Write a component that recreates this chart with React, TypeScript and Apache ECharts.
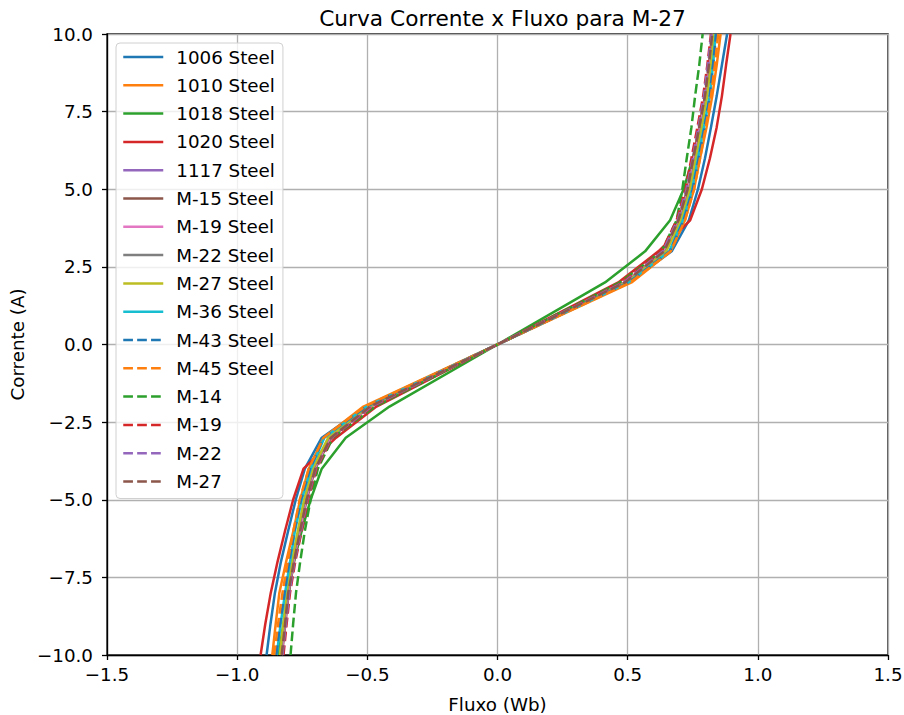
import React, { useEffect, useRef } from "react";
import * as echarts from "echarts";

const currents = [-10, -9, -8, -7, -6, -5, -4, -3, -2, 0, 2, 3, 4, 5, 6, 7, 8, 9, 10];

const seriesNames = [
  "1006 Steel", "1010 Steel", "1018 Steel", "1020 Steel", "1117 Steel",
  "M-15 Steel", "M-19 Steel", "M-22 Steel", "M-27 Steel", "M-36 Steel",
  "M-43 Steel", "M-45 Steel", "M-14", "M-19", "M-22", "M-27",
];

const flux1006 = [-0.887, -0.872, -0.855, -0.832, -0.804, -0.775, -0.74, -0.675, -0.505, 0, 0.503, 0.669, 0.735, 0.77, 0.797, 0.82, 0.842, 0.862, 0.882];
const flux1010 = [-0.865, -0.852, -0.838, -0.812, -0.784, -0.758, -0.725, -0.668, -0.515, 0, 0.515, 0.665, 0.72, 0.755, 0.778, 0.803, 0.825, 0.842, 0.857];
const flux1018 = [-0.842, -0.822, -0.802, -0.782, -0.752, -0.718, -0.675, -0.583, -0.415, 0, 0.413, 0.567, 0.663, 0.715, 0.75, 0.78, 0.8, 0.82, 0.84];
const flux1020 = [-0.91, -0.892, -0.871, -0.845, -0.816, -0.785, -0.745, -0.62, -0.465, 0, 0.464, 0.618, 0.74, 0.785, 0.816, 0.842, 0.862, 0.878, 0.895];
const flux1117 = [-0.83, -0.818, -0.805, -0.785, -0.762, -0.738, -0.705, -0.645, -0.49, 0, 0.49, 0.64, 0.7, 0.735, 0.757, 0.78, 0.8, 0.815, 0.828];
const fluxM15 = [-0.828, -0.815, -0.802, -0.782, -0.758, -0.733, -0.7, -0.64, -0.49, 0, 0.49, 0.637, 0.695, 0.73, 0.752, 0.775, 0.797, 0.812, 0.825];
const fluxM19s = [-0.83, -0.817, -0.804, -0.784, -0.76, -0.736, -0.703, -0.643, -0.49, 0, 0.49, 0.64, 0.7, 0.733, 0.755, 0.778, 0.8, 0.815, 0.828];
const fluxM22s = [-0.833, -0.82, -0.807, -0.787, -0.764, -0.74, -0.707, -0.648, -0.495, 0, 0.495, 0.645, 0.702, 0.737, 0.76, 0.782, 0.803, 0.818, 0.83];
const fluxM27s = [-0.836, -0.823, -0.81, -0.79, -0.767, -0.743, -0.71, -0.65, -0.497, 0, 0.497, 0.648, 0.705, 0.74, 0.762, 0.785, 0.805, 0.82, 0.832];
const fluxM36 = [-0.848, -0.833, -0.816, -0.797, -0.778, -0.752, -0.717, -0.665, -0.503, 0, 0.503, 0.66, 0.712, 0.748, 0.77, 0.793, 0.815, 0.828, 0.838];
const fluxM43 = [-0.85, -0.835, -0.818, -0.8, -0.78, -0.755, -0.72, -0.668, -0.505, 0, 0.505, 0.662, 0.715, 0.75, 0.773, 0.795, 0.815, 0.828, 0.84];
const fluxM45 = [-0.858, -0.843, -0.826, -0.806, -0.784, -0.76, -0.725, -0.668, -0.51, 0, 0.51, 0.665, 0.72, 0.755, 0.778, 0.8, 0.82, 0.835, 0.848];
const fluxM14 = [-0.795, -0.785, -0.774, -0.758, -0.74, -0.718, -0.69, -0.632, -0.47, 0, 0.47, 0.63, 0.688, 0.71, 0.727, 0.745, 0.759, 0.775, 0.788];
const fluxM19 = [-0.822, -0.81, -0.797, -0.777, -0.752, -0.728, -0.695, -0.635, -0.48, 0, 0.48, 0.63, 0.688, 0.722, 0.745, 0.768, 0.79, 0.806, 0.82];
const fluxM22 = [-0.826, -0.813, -0.8, -0.78, -0.755, -0.731, -0.698, -0.638, -0.485, 0, 0.485, 0.635, 0.692, 0.726, 0.75, 0.772, 0.793, 0.808, 0.822];
const fluxM27 = [-0.829, -0.816, -0.804, -0.782, -0.758, -0.733, -0.7, -0.64, -0.49, 0, 0.49, 0.64, 0.695, 0.73, 0.752, 0.775, 0.797, 0.812, 0.825];

const fluxSets = [
  flux1006, flux1010, flux1018, flux1020, flux1117, fluxM15, fluxM19s, fluxM22s,
  fluxM27s, fluxM36, fluxM43, fluxM45, fluxM14, fluxM19, fluxM22, fluxM27,
];

const palette = [
  "#1f77b4", "#ff7f0e", "#2ca02c", "#d62728", "#9467bd",
  "#8c564b", "#e377c2", "#7f7f7f", "#bcbd22", "#17becf",
];

const FONT = "DejaVu Sans";

const fmt = (v: number) => (v < 0 ? "\u2212" : "") + Math.abs(v).toFixed(1);

export default function App() {
  const ref = useRef<HTMLDivElement>(null);
  useEffect(() => {
    document.body.style.margin = "0";
    const chart = echarts.init(ref.current!, null, { renderer: "svg" });
    const series = seriesNames.map((name, i) => ({
      name,
      type: "line",
      data: fluxSets[i].map((f, j) => [f, currents[j]]),
      symbol: "none",
      showSymbol: false,
      color: palette[i % 10],
      lineStyle: {
        width: 2.5,
        color: palette[i % 10],
        type: i >= 10 ? [9.7, 4.2] : "solid",
      },
      emphasis: { disabled: true },
    }));
    chart.setOption({
      animation: false,
      backgroundColor: "#ffffff",
      title: {
        text: "Curva Corrente x Fluxo para M-27",
        left: 497.5,
        textAlign: "center",
        top: 2,
        textStyle: { fontFamily: FONT, fontSize: 21.7, fontWeight: "normal", color: "#000" },
      },
      grid: {
        left: 107,
        right: 16,
        top: 34,
        bottom: 60,
        outerBoundsMode: "none",
        containLabel: false,
        show: true,
        borderColor: "#000",
        borderWidth: 1.3,
        backgroundColor: "transparent",
      },
      legend: {
        orient: "vertical",
        left: 116,
        top: 43,
        padding: [5, 8, 8, 6],
        itemWidth: 40,
        itemHeight: 12,
        itemGap: 10.3,
        itemStyle: { opacity: 0 },
        lineStyle: { width: 2.5 },
        backgroundColor: "rgba(255,255,255,0.8)",
        borderColor: "#d0d0d0",
        borderWidth: 1,
        borderRadius: 4,
        textStyle: {
          fontFamily: FONT,
          fontSize: 18.3,
          lineHeight: 18,
          color: "#000",
          padding: [0, 0, 0, 8],
        },
        data: seriesNames,
      },
      xAxis: {
        type: "value",
        min: -1.5,
        max: 1.5,
        interval: 0.5,
        name: "Fluxo (Wb)",
        nameLocation: "middle",
        nameGap: 40,
        nameTextStyle: { fontFamily: FONT, fontSize: 18.3, color: "#000" },
        axisLine: { show: true, onZero: false, lineStyle: { color: "#000", width: 1.3 } },
        axisTick: { show: true, inside: false, length: 5, lineStyle: { color: "#000", width: 1.3 } },
        axisLabel: { formatter: fmt, fontFamily: FONT, fontSize: 18.3, color: "#000", margin: 10 },
        splitLine: { show: true, lineStyle: { color: "#b0b0b0", width: 1.3 } },
      },
      yAxis: {
        type: "value",
        min: -10,
        max: 10,
        interval: 2.5,
        name: "Corrente (A)",
        nameLocation: "middle",
        nameGap: 81,
        nameTextStyle: { fontFamily: FONT, fontSize: 18.3, color: "#000" },
        axisLine: { show: true, onZero: false, lineStyle: { color: "#000", width: 1.3 } },
        axisTick: { show: true, inside: false, length: 5, lineStyle: { color: "#000", width: 1.3 } },
        axisLabel: { formatter: fmt, fontFamily: FONT, fontSize: 18.3, color: "#000", margin: 14 },
        splitLine: { show: true, lineStyle: { color: "#b0b0b0", width: 1.3 } },
      },
      series,
    });
    return () => chart.dispose();
  }, []);
  return <div ref={ref} style={{ width: 904, height: 715 }} />;
}
